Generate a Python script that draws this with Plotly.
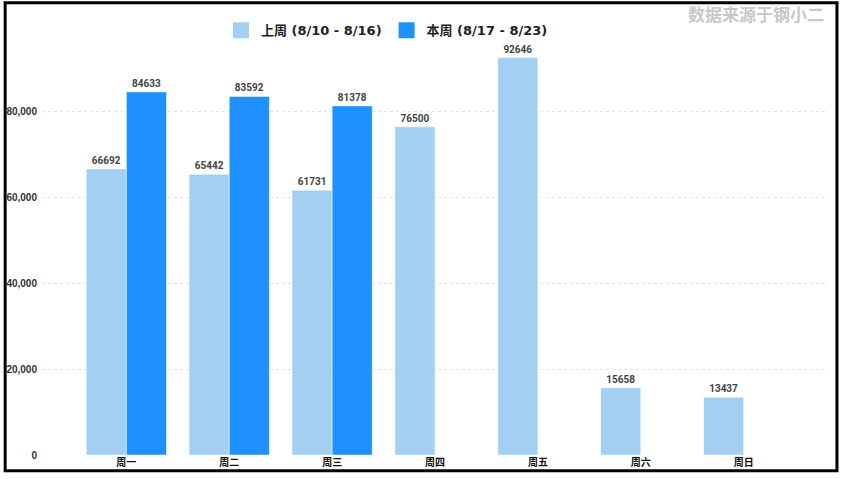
import plotly.graph_objects as go

days = ["周一", "周二", "周三", "周四", "周五", "周六", "周日"]
last_week = [66692, 65442, 61731, 76500, 92646, 15658, 13437]
this_week = [84633, 83592, 81378, None, None, None, None]
last_name = "上周 (8/10 - 8/16)"
this_name = "本周 (8/17 - 8/23)"
y_ticks = [0, 20000, 40000, 60000, 80000]

light = "#a3cff3"
dark = "#1e90ff"
label_font = dict(family="Liberation Sans Narrow, Roboto, sans-serif", size=10, color="#444", weight="bold")

fig = go.Figure()
for name, vals, col in [(last_name, last_week, light), (this_name, this_week, dark)]:
    fig.add_trace(
        go.Bar(
            x=days,
            y=vals,
            name=name,
            marker=dict(color=col, line=dict(color="rgba(255,255,255,0.5)", width=1)),
            text=[f"{v}" if v is not None else "" for v in vals],
            textposition="outside",
            textfont=label_font,
            cliponaxis=False,
            showlegend=False,
        )
    )
    # bigger square swatches for the legend
    fig.add_trace(
        go.Scatter(
            x=[None],
            y=[None],
            mode="markers",
            name=name,
            marker=dict(symbol="square", size=22, color=col),
        )
    )

fig.update_layout(
    width=843,
    height=479,
    margin=dict(l=42, r=17, t=26, b=24, autoexpand=False),
    paper_bgcolor="white",
    plot_bgcolor="white",
    barmode="group",
    bargap=0.22,
    bargroupgap=0,
    font=dict(family="Noto Sans CJK SC, sans-serif", color="#333"),
    legend=dict(
        orientation="h",
        x=0.44,
        xanchor="center",
        y=1.025,
        yanchor="top",
        font=dict(family="DejaVu Sans, Noto Sans CJK SC", size=13, color="#222", weight="bold"),
        itemsizing="trace",
        bgcolor="rgba(0,0,0,0)",
    ),
    xaxis=dict(
        range=[-0.82, 6.8],
        showgrid=False,
        showline=False,
        ticks="",
        automargin=False,
        tickfont=dict(family="Noto Sans CJK SC", size=10, color="#111", weight="bold"),
    ),
    yaxis=dict(
        range=[0, 100000],
        tickvals=y_ticks,
        tickformat=",",
        showgrid=True,
        gridcolor="#e2e2e2",
        griddash="dot",
        gridwidth=1,
        zeroline=False,
        showline=False,
        ticks="",
        automargin=False,
        ticklabelstandoff=4,
        tickfont=dict(family="Liberation Sans", size=10, color="#333", weight="bold"),
    ),
)

fig.add_annotation(
    text="数据来源于钢小二",
    xref="paper",
    yref="paper",
    x=1.0,
    y=1.028,
    xanchor="right",
    yanchor="middle",
    showarrow=False,
    font=dict(family="Noto Sans CJK SC", size=17, color="#c8c8c8", weight="bold"),
)

# black frame around the whole picture
fig.add_shape(
    type="rect",
    xref="paper",
    yref="paper",
    x0=-0.047,
    x1=1.014,
    y0=-0.037,
    y1=1.054,
    line=dict(color="black", width=3),
    fillcolor="rgba(0,0,0,0)",
    layer="above",
)

# drop the page's default body margin so the figure sits at the window corner
fig.write_html(
    "out.html",
    config={"displayModeBar": False},
    post_script="document.body.style.margin = '0';",
)
